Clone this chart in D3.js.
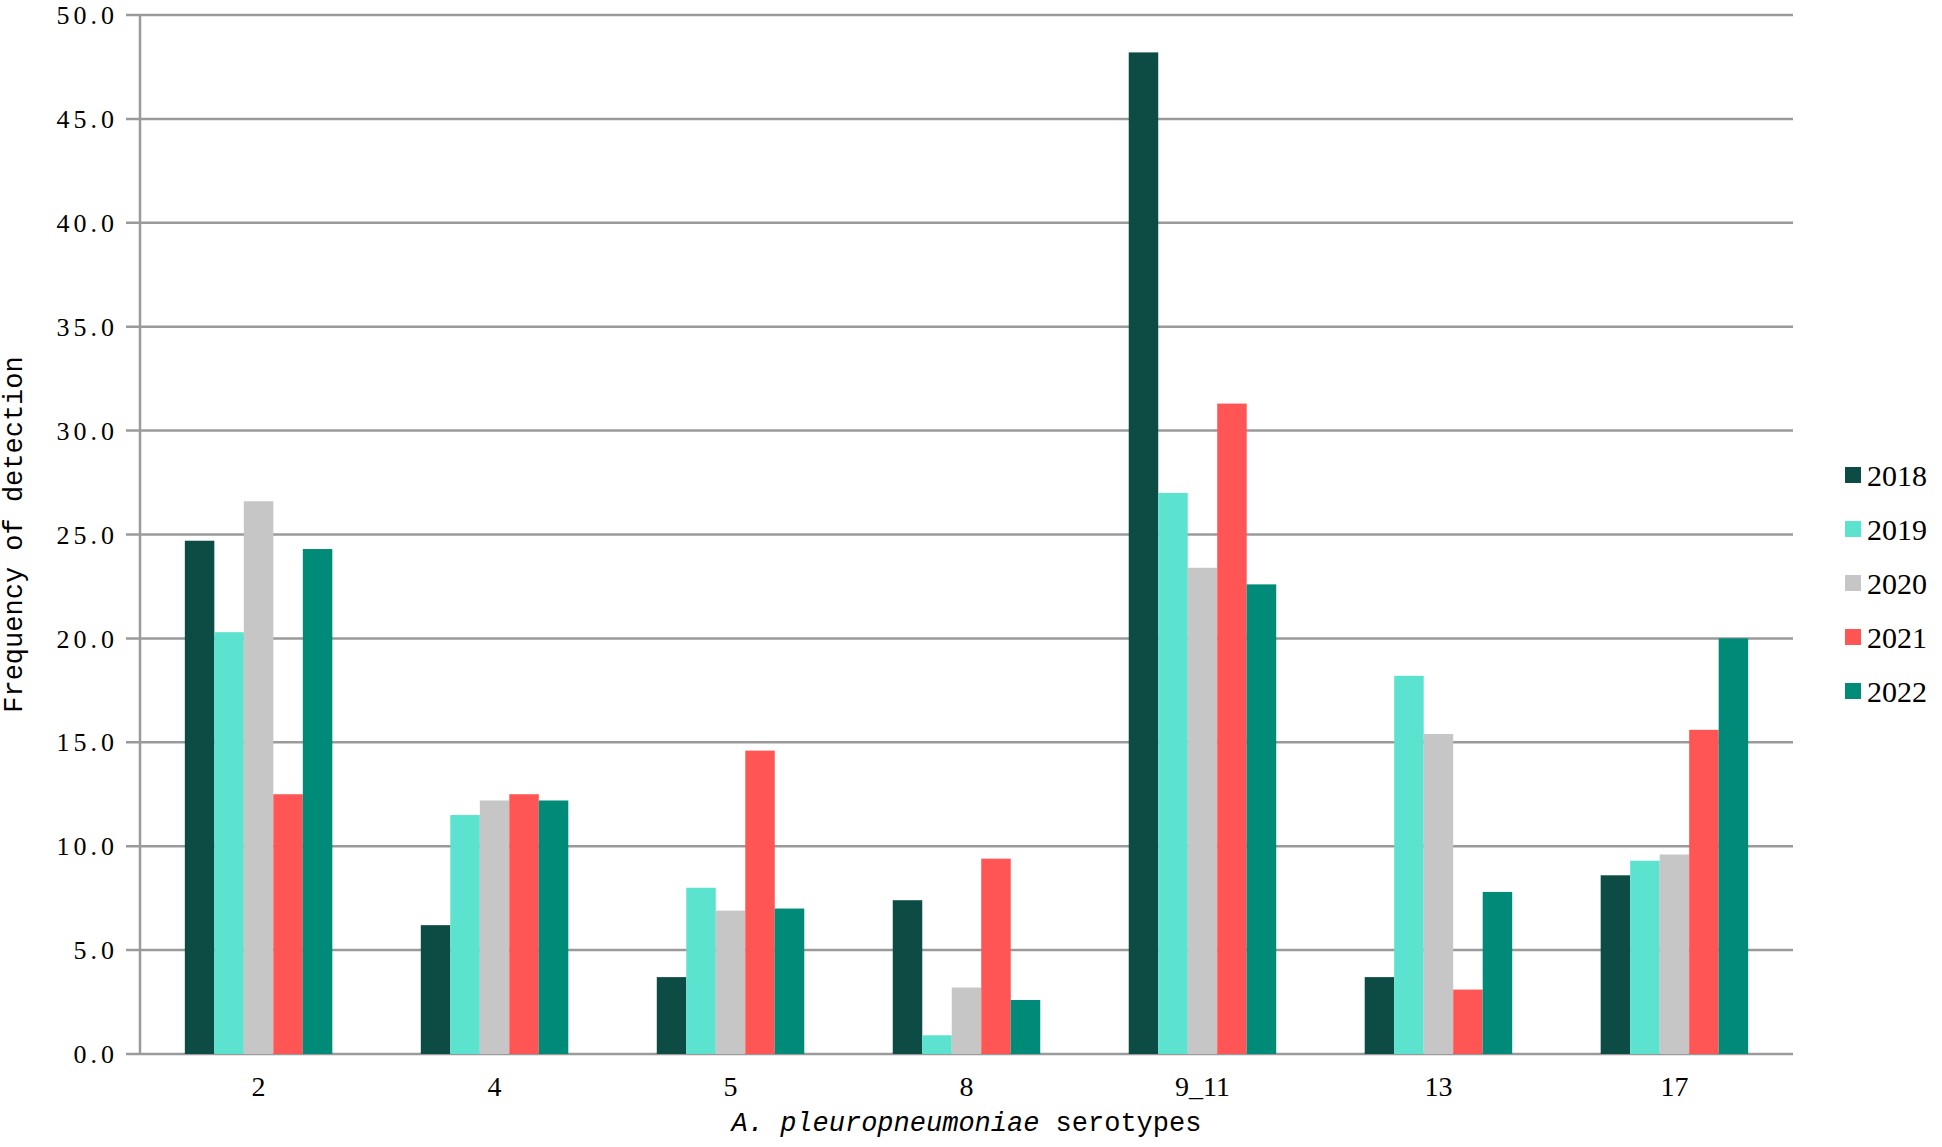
<!DOCTYPE html>
<html>
<head>
<style>
  body { margin: 0; background: #fff; }
  svg { display: block; }
</style>
<script src="https://d3js.org/d3.v7.min.js"></script>
</head>
<body>
<div id="chart"></div>
<script>
// data
const serotypes = ["2", "4", "5", "8", "9_11", "13", "17"];
const years = ["2018", "2019", "2020", "2021", "2022"];
const colors = ["#0c4c44", "#5ce3d0", "#c6c6c6", "#ff5555", "#008a78"];
const v2018 = [24.7, 6.2, 3.7, 7.4, 48.2, 3.7, 8.6];
const v2019 = [20.3, 11.5, 8.0, 0.9, 27.0, 18.2, 9.3];
const v2020 = [26.6, 12.2, 6.9, 3.2, 23.4, 15.4, 9.6];
const v2021 = [12.5, 12.5, 14.6, 9.4, 31.3, 3.1, 15.6];
const v2022 = [24.3, 12.2, 7.0, 2.6, 22.6, 7.8, 20.0];
const yTicks = [0, 5, 10, 15, 20, 25, 30, 35, 40, 45, 50];

const series = [v2018, v2019, v2020, v2021, v2022];
const W = 1942, H = 1147;
const m = {left: 140, right: 149, top: 15, bottom: 93};

const svg = d3.select("#chart").append("svg").attr("width", W).attr("height", H);

const x = d3.scaleBand().domain(serotypes).range([m.left, W - m.right]).paddingInner(0.375).paddingOuter(0.19);
const xi = d3.scaleBand().domain(years).range([0, x.bandwidth()]);
const y = d3.scaleLinear().domain([0, 50]).range([H - m.bottom, m.top]);

// grid
svg.append("g").selectAll("line").data(yTicks).join("line")
  .attr("x1", m.left - 14).attr("x2", W - m.right)
  .attr("y1", d => y(d)).attr("y2", d => y(d))
  .attr("stroke", "#9a9a9a").attr("stroke-width", 2.5);

svg.append("line").attr("x1", m.left).attr("x2", m.left)
  .attr("y1", m.top).attr("y2", H - m.bottom)
  .attr("stroke", "#9a9a9a").attr("stroke-width", 2.5);

// y labels
svg.append("g").selectAll("text").data(yTicks).join("text")
  .attr("x", m.left - 22).attr("y", d => y(d)).attr("dy", "0.35em")
  .attr("text-anchor", "end")
  .style("font-family", "Liberation Serif").style("font-size", "26px")
  .style("letter-spacing", "4px")
  .text(d => d.toFixed(1));

// bars
const g = svg.append("g").selectAll("g").data(serotypes).join("g")
  .attr("transform", d => `translate(${x(d)},0)`);
g.selectAll("rect").data((d, i) => years.map((yr, k) => ({yr, k, v: series[k][i]}))).join("rect")
  .attr("x", d => xi(d.yr)).attr("width", xi.bandwidth())
  .attr("y", d => y(d.v)).attr("height", d => y(0) - y(d.v))
  .attr("fill", d => colors[d.k]);

// x labels
svg.append("g").selectAll("text").data(serotypes).join("text")
  .attr("x", d => x(d) + x.bandwidth() / 2).attr("y", H - m.bottom + 42)
  .attr("text-anchor", "middle")
  .style("font-family", "Liberation Serif").style("font-size", "28px")
  .text(d => d);

// axis titles
const xt = svg.append("text").attr("x", (m.left + W - m.right) / 2).attr("y", H - 16)
  .attr("text-anchor", "middle")
  .style("font-family", "Liberation Mono").style("font-size", "27px");
xt.append("tspan").style("font-style", "italic").text("A. pleuropneumoniae");
xt.append("tspan").text(" serotypes");

svg.append("text").attr("transform", `translate(22,${(m.top + H - m.bottom) / 2}) rotate(-90)`)
  .attr("text-anchor", "middle")
  .style("font-family", "Liberation Mono").style("font-size", "27px")
  .text("Frequency of detection");

// legend
const lg = svg.append("g").selectAll("g").data(years).join("g")
  .attr("transform", (d, i) => `translate(1845,${475 + i * 54})`);
lg.append("rect").attr("x", 0).attr("y", -8).attr("width", 16).attr("height", 16)
  .attr("fill", (d, i) => colors[i]);
lg.append("text").attr("x", 22).attr("dy", "0.35em")
  .style("font-family", "Liberation Serif").style("font-size", "30px")
  .text(d => d);
</script>
</body>
</html>
